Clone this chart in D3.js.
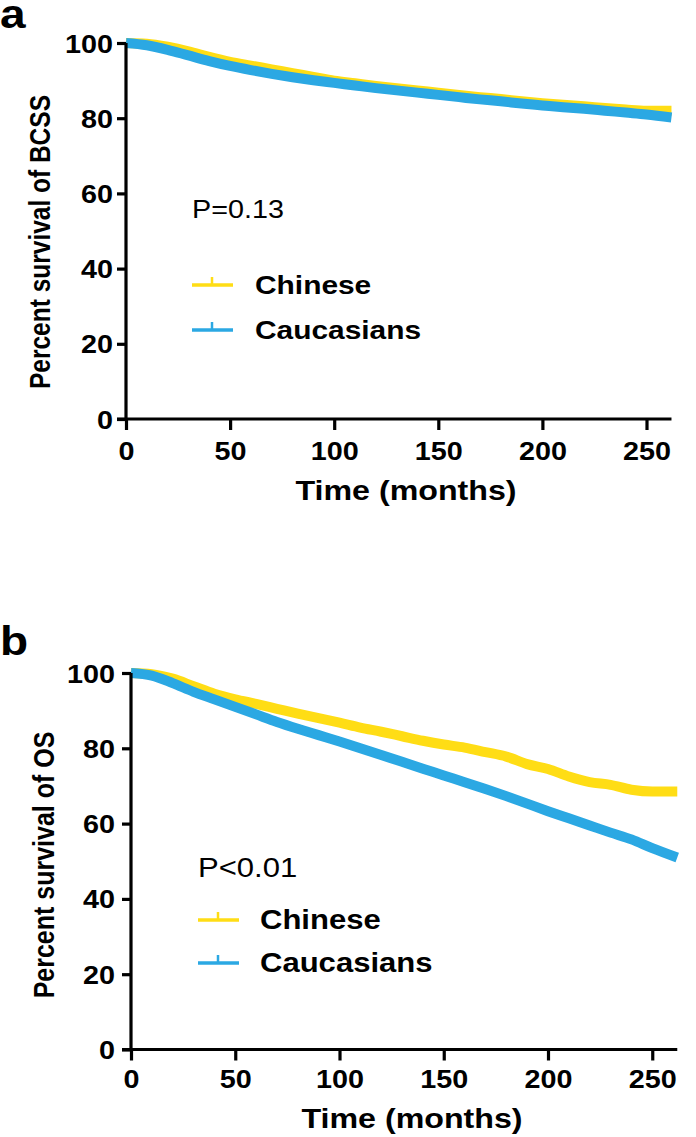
<!DOCTYPE html>
<html><head><meta charset="utf-8">
<script src="https://cdn.jsdelivr.net/npm/d3@7"></script>
<style>body{margin:0;background:#fff}svg{display:block}text{font-family:"Liberation Sans",Arial,sans-serif}</style>
</head><body>
<script>
// ---- data ----
const months = [0,10,20,30,40,50,60,70,80,90,100,110,120,130,140,150,160,170,180,190,200,210,220,230,240,250,262];
const bcssChinese =   [100,99.8,99.0,97.8,96.3,95.0,94.0,93.0,92.0,91.0,90.0,89.3,88.6,88.0,87.4,86.8,86.2,85.6,85.1,84.5,84.0,83.6,83.2,82.7,82.3,82.0,82.0];
const bcssCaucasian = [100,99.4,98.2,96.7,95.2,93.9,92.8,91.8,90.9,90.1,89.4,88.7,88.0,87.4,86.8,86.2,85.6,85.0,84.5,83.9,83.4,82.9,82.5,82.0,81.5,81.0,80.2];
const osChinese =     [100,99.7,98.5,96.5,94.5,93.0,91.8,90.5,89.2,88.0,86.8,85.5,84.4,83.2,82.0,81.0,80.2,79.0,77.8,75.8,74.5,72.5,71.0,70.3,69.0,68.5,68.5];
const osCaucasian =   [100,99.3,97.3,95.0,93.0,91.0,89.0,87.0,85.2,83.5,81.8,80.0,78.2,76.4,74.6,72.8,71.0,69.2,67.3,65.3,63.3,61.4,59.5,57.6,55.8,53.5,51.0];
const xTicks = [0,50,100,150,200,250];
const yTicks = [0,20,40,60,80,100];
const groups = ["Chinese","Caucasians"];
const colors = ["#FFDD15","#2BA8E3"];

const svg = d3.select("body").append("svg").attr("width",696).attr("height",1137);
const SX = 1.15;

function panel(o){
  const x = d3.scaleLinear().domain([0,262]).range([o.x0, o.x0 + 262*o.pxPer]);
  const y = d3.scaleLinear().domain([0,100]).range([o.y0, o.y100]);
  const g = svg.append("g");
  const line = d3.line().x((d,i)=>x(months[i])).y(d=>y(d)).curve(d3.curveMonotoneX);
  [o.a, o.b].forEach((s,k)=>{
    g.append("path").attr("d", line(s)).attr("fill","none").attr("stroke",colors[k]).attr("stroke-width",10);
  });
  const xa = g.append("g").attr("transform",`translate(0,${o.y0})`)
    .call(d3.axisBottom(x).tickValues(xTicks).tickSize(11).tickFormat(d3.format("d")));
  const ya = g.append("g").attr("transform",`translate(${o.x0},0)`)
    .call(d3.axisLeft(y).tickValues(yTicks).tickSize(9).tickFormat(d3.format("d")));
  [xa,ya].forEach(a=>{
    a.select(".domain").attr("stroke","#000").attr("stroke-width",3.2);
    a.selectAll(".tick line").attr("stroke","#000").attr("stroke-width",3.2);
    a.selectAll(".tick text").attr("fill","#000").attr("font-size",25).attr("font-weight","bold")
      .attr("font-family","Liberation Sans, Arial, sans-serif");
  });
  xa.select(".domain").attr("d",`M${o.x0-9},0H${x(262)}`);
  ya.select(".domain").attr("d",`M0,${o.y0}V${o.y100}`);
  xa.selectAll(".tick text").attr("y",o.xLabDy).attr("dy",0).attr("x",0).attr("transform",`scale(${SX},1)`);
  ya.selectAll(".tick text").attr("x",-o.yLabGap/SX).attr("dy","0.36em").attr("transform",`scale(${SX},1)`);
  g.append("text").attr("transform",`translate(${o.xTitleX},${o.xTitleY}) scale(${SX},1)`)
    .attr("text-anchor","middle").attr("font-size",28).attr("font-weight","bold").text("Time (months)");
  g.append("text").attr("transform",`translate(${o.yTitleX},${o.yTitleY}) scale(1.2,1) rotate(-90)`)
    .attr("text-anchor","middle").attr("font-size",o.yTitleSize).attr("font-weight","bold").text(o.yTitle);
  g.append("text").attr("transform",`translate(${o.letterX},${o.letterY}) scale(${SX},1)`)
    .attr("font-size",40).attr("font-weight","bold").text(o.letter);
  g.append("text").attr("transform",`translate(${o.legX},${o.pY}) scale(${SX},1)`)
    .attr("font-size",o.pSize).text(o.pText);
  groups.forEach((name,k)=>{
    const ly = o.legY[k];
    g.append("line").attr("x1",o.legX).attr("x2",o.legX+41).attr("y1",ly).attr("y2",ly)
      .attr("stroke",colors[k]).attr("stroke-width",3.5);
    g.append("line").attr("x1",o.legX+20).attr("x2",o.legX+20).attr("y1",ly).attr("y2",ly-8)
      .attr("stroke",colors[k]).attr("stroke-width",2.5);
    g.append("text").attr("transform",`translate(${o.legTextX},${ly+9}) scale(${SX},1)`)
      .attr("font-size",o.legSize).attr("font-weight","bold").text(name);
  });
}

panel({x0:126, pxPer:2.082, y0:419, y100:43, a:bcssChinese, b:bcssCaucasian,
  xLabDy:41, yLabGap:13, xTitleX:406, xTitleY:500, yTitleX:50, yTitleY:242, yTitleSize:24.5,
  yTitle:"Percent survival of BCSS", letter:"a", letterX:0, letterY:28,
  legX:192, pY:218, pText:"P=0.13", pSize:25, legY:[285,330], legTextX:255, legSize:26});
panel({x0:131, pxPer:2.085, y0:1049.5, y100:673, a:osChinese, b:osCaucasian,
  xLabDy:38.5, yLabGap:16, xTitleX:412, xTitleY:1128, yTitleX:54, yTitleY:865, yTitleSize:25,
  yTitle:"Percent survival of OS", letter:"b", letterX:0, letterY:655,
  legX:198, pY:877, pText:"P<0.01", pSize:27, legY:[920,963], legTextX:260, legSize:27});
</script>
</body></html>
